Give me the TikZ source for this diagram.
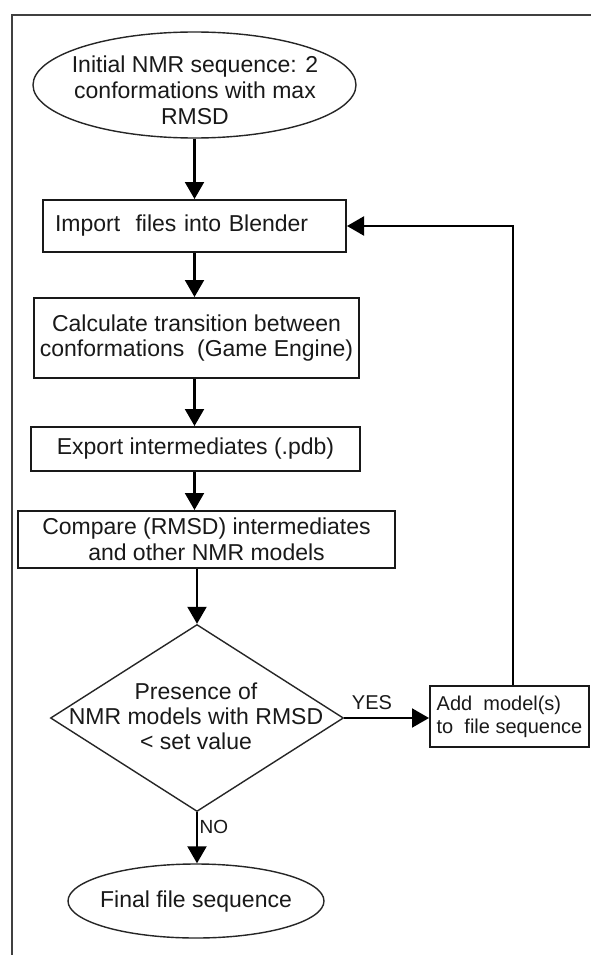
\documentclass[tikz,border=0pt]{standalone}
\usepackage{fontspec}
\setmainfont{Liberation Sans}
\usetikzlibrary{shapes.geometric,arrows.meta}
\begin{document}
\begin{tikzpicture}[x=1pt,y=-1pt,
  txt/.style={font=\fontsize{23}{26}\selectfont, align=center, inner sep=0pt, text=black!90},
  box/.style={draw=black!90, line width=2pt, rectangle, inner sep=0pt, font=\fontsize{23}{25.5}\selectfont, align=center, text=black!90},
  oval/.style={draw=black!85, line width=1.4pt, ellipse, inner sep=0pt},
  decision/.style={draw=black!85, line width=1.4pt, diamond, inner sep=0pt},
  arr/.style={draw=black, line width=2.1pt, -{Triangle[length=17pt,width=19pt]}},
  frame/.style={draw=black!75, line width=2pt},
  lbl/.style={font=\fontsize{20}{22}\selectfont, inner sep=0pt, text=black!90}
]
\useasboundingbox (0,0) rectangle (591,955);
\fill[white] (0,0) rectangle (591,955);
\draw[frame] (11.5,955) -- (11.5,15.5) -- (591,15.5);

% start ellipse
\node[oval, minimum width=323, minimum height=106] (start) at (194.5,85) {};
\node[txt] (startt) at (195,90) {Initial NMR sequence: 2\\conformations with max\\RMSD};

% boxes
\node[box, minimum width=303, minimum height=52, text width=279, inner xsep=12, align=left] (imp) at (194.5,226) {Import\ \ files into Blender};
\node[box, minimum width=325, minimum height=80] (calc) at (196.5,338) {Calculate transition between\\conformations\ \ (Game Engine)};
\node[box, minimum width=329, minimum height=44] (exp) at (195.5,449) {Export intermediates (.pdb)};
\node[box, minimum width=377, minimum height=57] (cmp) at (206.5,539.5) {Compare (RMSD) intermediates\\and other NMR models};

% decision
\node[decision, minimum width=293, minimum height=187] (d) at (197,718) {};
\node[txt, font=\fontsize{23}{25}\selectfont] (dt) at (196,716) {Presence of\\NMR models with RMSD\\< set value};

% add box
\node[box, minimum width=159, minimum height=61, align=left, font=\fontsize{20}{23}\selectfont] (add) at (509.5,716.5) {Add\ \ model(s)\\to\ \ file sequence};

% final ellipse
\node[oval, minimum width=256, minimum height=74] (fin) at (196,901) {};
\node[txt] (fint) at (196,902) {Final file sequence};

% labels
\node[lbl] (yes) at (372,703) {YES};
\node[lbl, anchor=west, font=\fontsize{19}{21}\selectfont] (no) at (199.5,827) {NO};

\coordinate (fbx) at (513,0);

% connectors
\draw[arr] (start.south) -- (start.south |- imp.north);
\draw[arr] (imp.south) -- (imp.south |- calc.north);
\draw[arr] (calc.south -| imp.south) -- (imp.south |- exp.north);
\draw[arr] (exp.south -| imp.south) -- (imp.south |- cmp.north);
\draw[arr] (cmp.south -| d.north) -- (d.north);
\draw[arr] (d.east) -- (d.east -| add.west);
\draw[arr] (add.north -| fbx) |- (imp.east);
\draw[arr] (d.south) -- (d.south |- fin.north);
\end{tikzpicture}
\end{document}
